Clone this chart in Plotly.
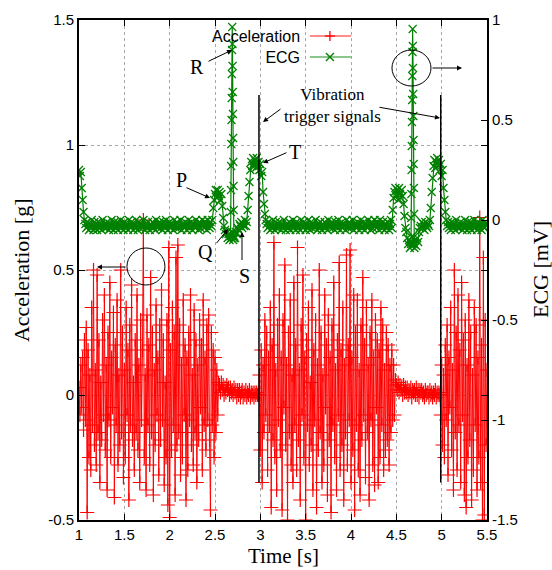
import plotly.graph_objects as go

# ---------------- data ----------------
time_start = 1.0      # first sample [s]
time_step = 0.01      # sampling interval [s]

acc_burst1 = [
    0.03, -0.08, 0.12, -0.05, 0.15, -0.14, 0.22, -0.10, 0.27, -0.47,
    0.18, -0.25, 0.08, -0.30, 0.35, -0.12, 0.50, -0.20, 0.10, -0.28,
    0.48, -0.15, 0.22, -0.35, 0.05, -0.18, 0.30, -0.08, 0.40, -0.22,
    0.12, -0.38, 0.25, -0.10, 0.45, -0.25, 0.15, -0.05, 0.33, -0.41,
    0.20, -0.12, 0.38, -0.28, 0.08, -0.20, 0.50, -0.15, 0.25, -0.33,
    0.10, -0.25, 0.35, -0.08, 0.18, -0.42, 0.28, -0.12, 0.44, -0.18,
    0.05, -0.30, 0.22, -0.15, 0.40, -0.22, 0.12, -0.35, 0.30, -0.10,
    0.18, 0.70, -0.25, 0.08, -0.38, 0.32, -0.12, 0.20, -0.28, 0.47,
    -0.15, 0.25, -0.40, 0.10, -0.20, 0.36, -0.08, 0.15, -0.32, 0.28,
    -0.18, 0.42, -0.10, 0.22, -0.36, 0.05, -0.25, 0.30, -0.44, 0.59,
    -0.49, 0.18, -0.22, 0.35, -0.12, 0.25, -0.40, 0.55, -0.20, 0.60,
    -0.15, 0.28, -0.32, 0.12, -0.25, 0.38, -0.08, 0.20, -0.42, 0.15,
    -0.30, 0.25, -0.10, 0.40, -0.20, 0.08, -0.28, 0.34, -0.15, 0.22,
    -0.35, 0.12, -0.18, 0.30, -0.05, 0.20, -0.30, 0.38, -0.12, 0.15,
    -0.22, 0.28, -0.10, 0.32, -0.18, -0.46, 0.25, -0.12, 0.18, -0.25,
    0.15, -0.15, 0.10, -0.08, 0.05,
]
acc_quiet1 = [
    0.04, 0.01, 0.05, 0.02, 0.04, 0.00, 0.03, 0.01, 0.04, 0.02,
    0.03, 0.00, 0.03, 0.01, 0.02, 0.00, 0.03, 0.01, 0.02, -0.01,
    0.02, 0.00, 0.02, -0.01, 0.01, 0.02, -0.01, 0.01, 0.00, 0.02,
    -0.01, 0.01, 0.00, 0.02, -0.01, 0.01, 0.00, 0.01, -0.01, 0.01,
    0.00, 0.01, 0.00,
]
acc_burst2 = [
    0.00, 0.08,
    -0.22, 0.18, -0.35, 0.12, -0.15, 0.30, -0.08, 0.25, -0.30, 0.15,
    -0.12, 0.35, -0.45, 0.20, -0.18, 0.61, -0.25, 0.10, -0.38, 0.28,
    -0.10, 0.40, -0.22, 0.15, -0.46, 0.30, -0.05, 0.52, -0.20, 0.12,
    -0.50, 0.25, -0.15, 0.38, -0.28, 0.08, -0.35, 0.45, -0.12, 0.20,
    -0.30, 0.59, -0.18, 0.10, -0.42, 0.28, -0.08, 0.48, -0.25, 0.15,
    -0.50, 0.22, -0.12, 0.35, -0.28, 0.05, -0.20, 0.42, -0.38, 0.18,
    -0.10, 0.30, -0.45, 0.12, -0.22, 0.50, -0.15, 0.25, -0.35, 0.08,
    -0.28, 0.40, -0.05, 0.20, -0.40, 0.32, -0.18, 0.15, -0.47, 0.28,
    -0.12, 0.45, -0.25, 0.10, -0.38, 0.22, -0.08, 0.53, -0.30, 0.18,
    -0.20, 0.35, -0.42, 0.12, -0.15, 0.56, -0.28, 0.20, -0.10, 0.58,
    -0.35, 0.15, -0.22, 0.40, -0.46, 0.25, -0.12, 0.38, -0.30, 0.10,
    -0.40, 0.28, -0.18, 0.47, -0.08, 0.20, -0.33, 0.35, -0.15, 0.12,
    -0.42, 0.25, -0.10, 0.38, -0.28, 0.15, -0.36, 0.30, -0.05, 0.22,
    -0.35, 0.18, -0.25, 0.35, -0.12, 0.28, -0.30, 0.10, -0.22, 0.25,
    -0.18, 0.20, -0.28, 0.12, -0.15, 0.18, -0.10, 0.12, -0.08, 0.06,
]
acc_quiet2 = [
    0.04, 0.02, 0.05, 0.01, 0.04, 0.02, 0.03, 0.00, 0.04, 0.01,
    0.03, 0.01, 0.03, 0.00, 0.02, 0.01, 0.03, -0.01, 0.02, 0.01,
    0.02, 0.00, 0.03, 0.00, 0.02, -0.01, 0.02, 0.01, 0.02, 0.00,
    0.01, -0.01, 0.02, 0.00, 0.01, 0.01, -0.01, 0.02, 0.00, 0.01,
    -0.01, 0.01, 0.00, 0.02, -0.01, 0.01, 0.00, 0.01,
]
acc_burst3 = [
    0.00, -0.08,
    0.12, -0.20, 0.08, -0.25, 0.20, -0.10, 0.28, -0.32, 0.15, -0.05,
    0.35, -0.22, 0.10, -0.38, 0.50, -0.15, 0.25, -0.30, 0.40, -0.12,
    0.18, -0.35, 0.45, -0.08, 0.22, -0.40, 0.30, -0.45, 0.12, -0.25,
    0.38, -0.18, 0.25, -0.42, 0.08, -0.30, 0.35, -0.12, 0.28, -0.38,
    0.15, -0.25, 0.71, -0.35, 0.20, -0.50, 0.55, -0.48, 0.30, -0.20,
    0.10,
]
acceleration = acc_burst1 + acc_quiet1 + acc_burst2 + acc_quiet2 + acc_burst3

ecg = [
    0.25, 0.22, 0.24, 0.16, 0.10, 0.04, 0.00, -0.02, -0.04, -0.01,   # 1.00
    -0.03, -0.05, -0.02, -0.04, 0.00, -0.03, -0.05, -0.01, -0.04, -0.02,
    -0.05, -0.01, -0.03, -0.04, -0.02, -0.05, 0.00, -0.03, -0.04, -0.02,
    -0.04, -0.01, -0.03, -0.05, -0.02, -0.04, 0.00, -0.03, -0.05, -0.01,
    -0.03, -0.04, -0.01, -0.05, -0.02, -0.03, 0.00, -0.04, -0.02, -0.05,
    -0.01, -0.03, -0.04, -0.02, -0.05, 0.00, -0.03, -0.04, -0.01, -0.03,  # 1.50
    -0.05, -0.02, -0.04, 0.00, -0.03, -0.05, -0.01, -0.04, -0.02, -0.03,
    -0.04, 0.00, -0.03, -0.05, -0.02, -0.04, -0.01, -0.03, -0.05, -0.02,
    -0.03, -0.01, -0.04, -0.02, -0.05, 0.00, -0.03, -0.04, -0.02, -0.01,
    -0.04, -0.02, -0.05, -0.01, -0.03, -0.04, 0.00, -0.02, -0.05, -0.03,
    -0.01, -0.04, -0.02, -0.03, -0.05, 0.00, -0.03, -0.04, -0.01, -0.02,  # 2.00
    -0.04, -0.03, 0.00, -0.05, -0.02, -0.03, -0.04, -0.01, -0.03, -0.05,
    -0.02, 0.00, -0.04, -0.03, -0.01, -0.05, -0.02, -0.03, -0.04, 0.00,
    -0.03, -0.02, -0.05, -0.01, -0.04, -0.02, 0.00, -0.03, -0.04, -0.01,
    -0.03, -0.05, 0.00, -0.02, -0.04, -0.01, -0.03, 0.00, 0.06, 0.10,
    0.13, 0.15, 0.11, 0.15, 0.12, 0.14, 0.10, 0.13, 0.07, 0.01,        # 2.50
    -0.03, -0.05, -0.07, -0.06, -0.09, -0.07, -0.10, -0.08, -0.09, -0.06,
    -0.10, -0.08, -0.09, -0.06, -0.07, -0.04, -0.05, -0.02, -0.03, -0.01,
    -0.04, -0.02, -0.03, 0.00, -0.03, -0.01, 0.05, 0.12, 0.19, 0.25,
    0.29, 0.27, 0.31, 0.28, 0.30, 0.26, 0.31, 0.27, 0.29, 0.25,
    0.28, 0.22, 0.24, 0.14, 0.08, 0.03, 0.00, -0.02, -0.04, -0.01,     # 3.00
    -0.03, -0.05, -0.02, -0.04, 0.00, -0.03, -0.05, -0.01, -0.04, -0.02,
    -0.04, -0.01, -0.03, -0.05, -0.02, -0.04, 0.00, -0.03, -0.05, -0.02,
    -0.03, -0.04, -0.01, -0.05, -0.02, -0.03, 0.00, -0.04, -0.02, -0.05,
    -0.01, -0.03, -0.04, -0.02, -0.05, 0.00, -0.03, -0.04, -0.01, -0.03,
    -0.05, -0.02, -0.04, 0.00, -0.03, -0.05, -0.01, -0.04, -0.02, -0.03,  # 3.50
    -0.04, 0.00, -0.03, -0.05, -0.02, -0.04, -0.01, -0.03, -0.05, -0.02,
    -0.03, -0.01, -0.04, -0.02, -0.05, 0.00, -0.03, -0.04, -0.02, -0.01,
    -0.04, -0.02, -0.05, -0.01, -0.03, -0.04, 0.00, -0.02, -0.05, -0.03,
    -0.01, -0.04, -0.02, -0.03, -0.05, 0.00, -0.03, -0.04, -0.01, -0.02,
    -0.04, -0.03, 0.00, -0.05, -0.02, -0.03, -0.04, -0.01, -0.03, -0.05,  # 4.00
    -0.02, 0.00, -0.04, -0.03, -0.01, -0.05, -0.02, -0.03, -0.04, 0.00,
    -0.03, -0.02, -0.05, -0.01, -0.04, -0.02, 0.00, -0.03, -0.04, -0.01,
    -0.03, -0.05, 0.00, -0.02, -0.04, -0.01, -0.03, -0.05, -0.02, -0.04,
    -0.01, -0.03, -0.05, -0.02, 0.00, -0.04, 0.05, 0.11, 0.14, 0.16,
    0.12, 0.15, 0.10, 0.16, 0.13, 0.11, 0.15, 0.12, 0.08, 0.02,        # 4.50
    -0.04, -0.06, -0.09, -0.12, -0.10, -0.14, -0.11, -0.13, -0.08, -0.12,
    -0.14, -0.10, -0.13, -0.09, -0.11, -0.06, -0.04, -0.03, -0.01, -0.04,
    -0.02, -0.05, -0.01, -0.03, -0.04, -0.02, -0.03, 0.00, 0.06, 0.14,
    0.21, 0.27, 0.30, 0.26, 0.29, 0.31, 0.27, 0.30, 0.25, 0.28,
    0.22, 0.25, 0.16, 0.10, 0.04, 0.00, -0.03, -0.01, -0.04, -0.02,     # 5.00
    -0.05, -0.01, -0.03, -0.04, -0.02, -0.05, 0.00, -0.03, -0.04, -0.02,
    -0.04, -0.01, -0.03, -0.05, -0.02, -0.04, 0.00, -0.03, -0.05, -0.01,
    -0.03, -0.04, -0.01, -0.05, -0.02, -0.03, 0.00, -0.04, -0.02, -0.05,
    -0.01, -0.03, -0.04, -0.02, -0.05, 0.00, -0.03, -0.04, -0.01, -0.03,
    -0.02,
]

# finely sampled R-peaks
ecg_r1_time = [2.672, 2.674, 2.676, 2.678, 2.680, 2.682, 2.684, 2.686, 2.688, 2.690,
               2.692, 2.694, 2.696, 2.698, 2.700, 2.702, 2.704, 2.706, 2.708]
ecg_r1_value = [-0.08, 0.04, 0.15, 0.27, 0.38, 0.50, 0.61, 0.73, 0.85, 0.965,
                0.88, 0.77, 0.64, 0.53, 0.41, 0.29, 0.17, 0.05, -0.09]
ecg_r2_time = [4.662, 4.664, 4.666, 4.668, 4.670, 4.672, 4.674, 4.676, 4.678, 4.680,
               4.682, 4.684, 4.686, 4.688, 4.690, 4.692, 4.694, 4.696, 4.698]
ecg_r2_value = [-0.12, 0.01, 0.13, 0.25, 0.37, 0.49, 0.60, 0.72, 0.84, 0.955,
                0.87, 0.76, 0.63, 0.52, 0.40, 0.28, 0.16, 0.03, -0.12]

trigger_times = [2.985, 4.99]
trigger_low = -0.35
trigger_high = 1.2

x_tick_values = [1, 1.5, 2, 2.5, 3, 3.5, 4, 4.5, 5, 5.5]
x_tick_labels = ["1", "1.5", "2", "2.5", "3", "3.5", "4", "4.5", "5", "5.5"]
acc_tick_values = [-0.5, 0, 0.5, 1, 1.5]
acc_tick_labels = ["-0.5", "0", "0.5", "1", "1.5"]
ecg_tick_values = [-1.5, -1, -0.5, 0, 0.5, 1]
ecg_tick_labels = ["-1.5", "-1", "-0.5", "0", "0.5", "1"]

# ---------------- styling ----------------
RED = "#ff0000"
GREEN = "#008000"
SANS = "Liberation Sans, Arial, sans-serif"
SERIF = "Liberation Serif, Times New Roman, serif"

fig = go.Figure()

fig.add_trace(go.Scatter(
    x0=time_start, dx=time_step, y=acceleration, name="Acceleration",
    mode="lines+markers", line=dict(color=RED, width=1),
    marker=dict(symbol="cross-thin", size=10, line=dict(color=RED, width=1.2)),
    showlegend=False, yaxis="y",
))
fig.add_trace(go.Scatter(
    x0=time_start, dx=time_step, y=ecg, name="ECG",
    mode="lines+markers", line=dict(color=GREEN, width=1.2),
    marker=dict(symbol="x-thin", size=8, line=dict(color=GREEN, width=1.3)),
    showlegend=False, yaxis="y2",
))
for rt, rv in ((ecg_r1_time, ecg_r1_value), (ecg_r2_time, ecg_r2_value)):
    fig.add_trace(go.Scatter(
        x=rt, y=rv, name="ECG", mode="lines+markers",
        line=dict(color=GREEN, width=1.2),
        marker=dict(symbol="x-thin", size=8, line=dict(color=GREEN, width=1.2)),
        showlegend=False, yaxis="y2",
    ))

shapes = []
# blank the grid behind the key (as gnuplot does)
shapes.append(dict(type="rect", xref="x", yref="y", x0=2.334, x1=4.055, y0=1.328, y1=1.5,
                   fillcolor="white", line=dict(width=0), layer="below"))
for tt in trigger_times:
    shapes.append(dict(type="line", xref="x", yref="y", x0=tt, x1=tt,
                       y0=trigger_low, y1=trigger_high,
                       line=dict(color="black", width=1.5), layer="above"))
# ellipses
shapes.append(dict(type="circle", xref="x", yref="y", x0=1.529, x1=1.948, y0=0.44, y1=0.588,
                   line=dict(color="black", width=1)))
shapes.append(dict(type="circle", xref="x", yref="y", x0=4.452, x1=4.882, y0=1.236, y1=1.38,
                   line=dict(color="black", width=1)))

# key (gnuplot style: text then sample)
key_x = 0.615
key_rows = [(0.968, RED, "rgba(255,0,0,0.6)", "plus"),
            (0.926, GREEN, "rgba(0,128,0,0.6)", "x")]
annotations = []
for ky, col, lcol, sym in key_rows:
    shapes.append(dict(type="line", xref="paper", yref="paper", x0=0.566, x1=0.667,
                       y0=ky, y1=ky, line=dict(color=lcol, width=1.5)))
    if sym == "plus":
        shapes.append(dict(type="line", xref="paper", yref="paper", xsizemode="pixel",
                           xanchor=key_x, x0=-5, x1=5, y0=ky, y1=ky,
                           line=dict(color=col, width=1.3)))
        shapes.append(dict(type="line", xref="paper", yref="paper", ysizemode="pixel",
                           yanchor=ky, y0=-5, y1=5, x0=key_x, x1=key_x,
                           line=dict(color=col, width=1.3)))
    else:
        for a, b in ((-4, 4), (4, -4)):
            shapes.append(dict(type="line", xref="paper", yref="paper",
                               xsizemode="pixel", xanchor=key_x, x0=-4, x1=4,
                               ysizemode="pixel", yanchor=ky, y0=a, y1=b,
                               line=dict(color=col, width=1.3)))
annotations.append(dict(xref="paper", yref="paper", x=0.5466, y=0.947,
                        text="Acceleration<br>ECG", align="right",
                        xanchor="right", yanchor="middle", showarrow=False,
                        font=dict(family=SANS, size=16, color="black")))

# text labels
labels = [
    ("R", 2.3015, 1.312, 20), ("P", 2.125, 0.86, 20), ("Q", 2.3897, 0.572, 20),
    ("S", 2.8199, 0.476, 20), ("T", 3.3824, 0.972, 20),
    ("Vibration<br>trigger signals", 3.7904, 1.158, 17),
]
for txt, lx, ly, fs in labels:
    annotations.append(dict(xref="x", yref="y", x=lx, y=ly, text=txt, showarrow=False,
                            xanchor="center", yanchor="middle", align="center",
                            font=dict(family=SERIF, size=fs, color="black")))

# arrows (head in data coords, tail offset in px)
arrows = [
    (2.6875, 1.38, -25, 12), (2.4449, 0.788, -25, -11), (2.6434, 0.664, -13, 16),
    (2.7978, 0.652, 0, 30), (3.0294, 0.928, 25, -11), (3.0294, 1.092, 19, -14),
    (4.9816, 1.108, -62, -11), (1.1985, 0.512, 30, 0), (5.2243, 1.308, -31, 0),
]
for hx, hy, ax, ay in arrows:
    annotations.append(dict(xref="x", yref="y", x=hx, y=hy, ax=ax, ay=ay, text=" ",
                            font=dict(size=1), showarrow=True, arrowhead=2,
                            arrowsize=1, arrowwidth=1, arrowcolor="black", standoff=0))

# axis titles
annotations.append(dict(xref="paper", yref="paper", x=-0.142, y=0.5, text="Acceleration [g]",
                        textangle=-90, showarrow=False, xanchor="center", yanchor="middle",
                        font=dict(family=SERIF, size=22, color="black")))
annotations.append(dict(xref="paper", yref="paper", x=1.13, y=0.5, text="ECG [mV]",
                        textangle=-90, showarrow=False, xanchor="center", yanchor="middle",
                        font=dict(family=SERIF, size=22, color="black")))
annotations.append(dict(xref="paper", yref="paper", x=0.5, y=-0.072, text="Time [s]",
                        showarrow=False, xanchor="center", yanchor="middle",
                        font=dict(family=SERIF, size=21, color="black")))

axis_common = dict(ticks="inside", ticklen=6, tickwidth=1, tickcolor="black",
                   showline=True, linecolor="black", linewidth=2,
                   tickfont=dict(family=SANS, size=15, color="black"), zeroline=False)

fig.update_layout(
    width=552, height=570,
    margin=dict(l=79, r=65, t=20, b=50),
    paper_bgcolor="white", plot_bgcolor="white",
    showlegend=False,
    xaxis=dict(range=[1, 5.5], tickmode="array", tickvals=x_tick_values,
               ticktext=x_tick_labels, mirror="ticks", showgrid=True,
               gridcolor="#a8a8a8", griddash="dot", gridwidth=1, **axis_common),
    yaxis=dict(range=[-0.5, 1.5], tickmode="array", tickvals=acc_tick_values,
               ticktext=acc_tick_labels, mirror="ticks", showgrid=True,
               gridcolor="#a8a8a8", griddash="dot", gridwidth=1, **axis_common),
    yaxis2=dict(range=[-1.5, 1], tickmode="array", tickvals=ecg_tick_values,
                ticktext=ecg_tick_labels, overlaying="y", side="right",
                showgrid=False, **axis_common),
    shapes=shapes, annotations=annotations,
)

fig.write_html("out.html", config={"displayModeBar": False},
               post_script="document.body.style.margin='0px';document.body.style.overflow='hidden';")
